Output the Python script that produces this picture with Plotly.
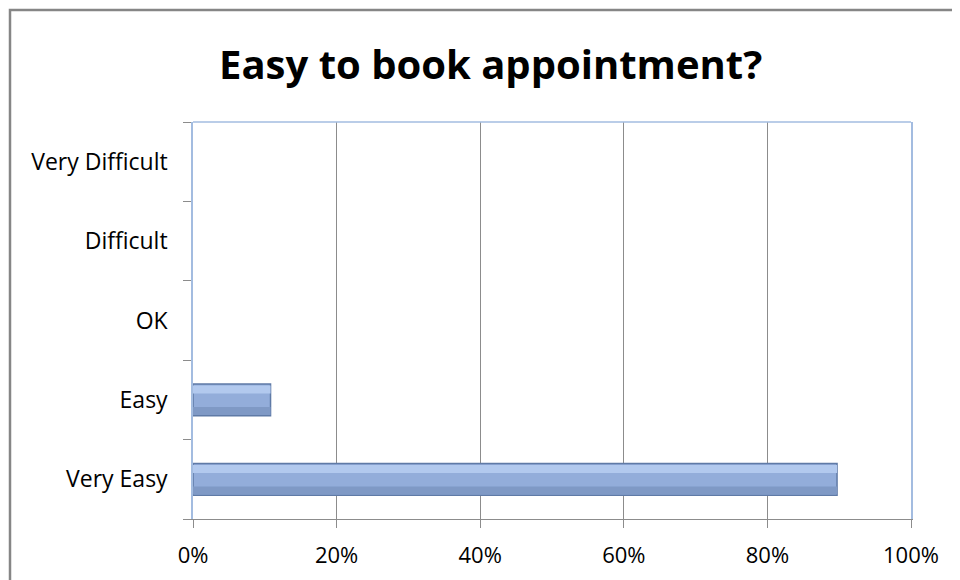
import plotly.graph_objects as go

respostas = ['Very Easy', 'Easy', 'OK', 'Difficult', 'Very Difficult']
percentuais = [0.897, 0.108, 0, 0, 0]
ticks_x = [0, 0.2, 0.4, 0.6, 0.8, 1.0]

# a pagina html tem margem de 8px no body, entao tudo e compensado aqui
W, H = 952, 572
esq, dir_, topo, base = 185, 903, 114, 511

fig = go.Figure()

# barra principal
fig.add_trace(go.Bar(
    x=percentuais, y=respostas,
    orientation='h',
    width=0.4,
    marker=dict(color='#93ADDA',
                line=dict(color='#5F7AA6', width=[1.5 if v > 0 else 0 for v in percentuais])),
    hoverinfo='x+y',
))
# brilho superior (efeito de bisel)
fig.add_trace(go.Bar(
    x=percentuais, y=respostas,
    orientation='h',
    width=0.1, offset=0.08,
    marker=dict(color='#B2C9EE', line=dict(width=0)),
    hoverinfo='skip',
))
# sombra inferior
fig.add_trace(go.Bar(
    x=percentuais, y=respostas,
    orientation='h',
    width=0.1, offset=-0.19,
    marker=dict(color='#7F99C5', line=dict(width=0)),
    hoverinfo='skip',
))

fig.update_layout(
    width=W, height=H,
    margin=dict(l=esq, r=W - dir_, t=topo, b=H - base),
    barmode='overlay',
    paper_bgcolor='white', plot_bgcolor='white',
    font=dict(family='Open Sans, sans-serif', size=22, color='#000000'),
    title=dict(text='<b>Easy to book appointment?</b>', x=0.507, xanchor='center',
               y=0.90, yanchor='middle', font=dict(size=40, color='#000000')),
    showlegend=False,
    xaxis=dict(range=[0, 1], tickvals=ticks_x, tickformat='.0%',
               showgrid=True, gridcolor='#8C8C8C', gridwidth=1,
               showline=True, linecolor='#8C8C8C', linewidth=1,
               ticks='outside', ticklen=8, tickcolor='#8C8C8C',
               ticklabelstandoff=9, zeroline=False, fixedrange=True),
    yaxis=dict(categoryorder='array', categoryarray=respostas,
               showline=True, linecolor='#A3BCE0', linewidth=1.5, mirror=True,
               ticks='outside', ticklen=8, tickcolor='#8C8C8C', tickson='boundaries',
               ticklabelstandoff=19, showgrid=False, fixedrange=True,
               tickfont=dict(size=23)),
    shapes=[
        # linha superior azul da area do grafico
        dict(type='line', xref='paper', yref='paper', x0=0, x1=1, y0=1, y1=1,
             line=dict(color='#A3BCE0', width=1.5)),
        # moldura externa cinza
        dict(type='rect', xref='paper', yref='paper',
             x0=(2 - esq) / (dir_ - esq), x1=(980 - esq) / (dir_ - esq),
             y0=(base - 600) / (base - topo), y1=(base - 2) / (base - topo),
             line=dict(color='#868686', width=2.5), layer='below'),
    ],
)

fig.write_html('out.html')
